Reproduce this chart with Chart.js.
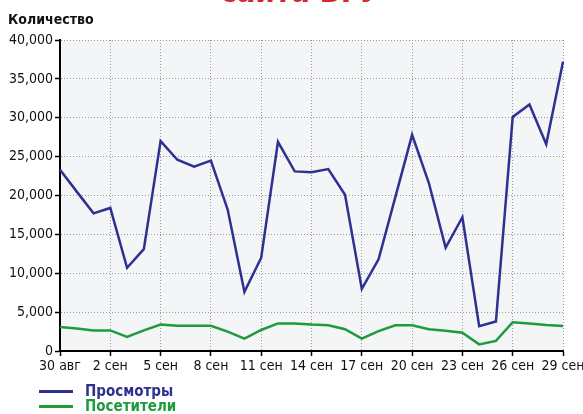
<!DOCTYPE html>
<html>
<head>
<meta charset="utf-8">
<script src="https://cdn.jsdelivr.net/npm/chart.js@4"></script>
<style>
  html,body{margin:0;padding:0;background:#fff;}
  #wrap{position:relative;width:583px;height:414px;overflow:hidden;font-family:"Liberation Sans Narrow","Arial Narrow","DejaVu Sans Condensed",sans-serif;}
  #top{position:absolute;left:0;width:600px;top:-24px;line-height:31px;height:31px;text-align:center;color:#d7262e;font-weight:bold;font-size:31px;}
  #ttl{position:absolute;left:8px;top:11px;font-weight:bold;font-size:14px;color:#111;}
  #leg{position:absolute;left:39px;top:384px;font-weight:bold;font-size:15px;line-height:15px;}
  #leg div{display:flex;align-items:center;}
  #leg span.ln{display:inline-block;width:34px;height:3px;margin-right:12px;}
  canvas{position:absolute;left:0;top:0;}
</style>
</head>
<body>
<div id="wrap">
  <canvas id="c" width="583" height="414"></canvas>
  <div id="top">сайта БГУ</div>
  <div id="ttl">Количество</div>
  <div id="leg"></div>
</div>
<script>
// ── данные ──
const dates=['30 авг','31 авг','1 сен','2 сен','3 сен','4 сен','5 сен','6 сен','7 сен','8 сен','9 сен','10 сен','11 сен','12 сен','13 сен','14 сен','15 сен','16 сен','17 сен','18 сен','19 сен','20 сен','21 сен','22 сен','23 сен','24 сен','25 сен','26 сен','27 сен','28 сен','29 сен'];
const views=[23300,20500,17700,18400,10700,13100,27000,24600,23700,24500,18200,7600,12000,26900,23100,23000,23400,20100,8000,11800,19800,27800,21600,13300,17200,3200,3800,30100,31700,26600,37200];
const visitors=[3100,2900,2650,2650,1800,2650,3400,3250,3250,3250,2500,1600,2700,3550,3550,3400,3300,2800,1600,2550,3300,3300,2800,2600,2350,850,1300,3700,3550,3350,3200];
const seriesNames=['Просмотры','Посетители'];
const seriesColors=['#2e3192','#1f9a3c'];
const yTicks=[0,5000,10000,15000,20000,25000,30000,35000,40000];

const FONT='"Liberation Sans Narrow","Arial Narrow","DejaVu Sans Condensed",sans-serif';

document.getElementById('leg').innerHTML=seriesNames.map((n,i)=>
  `<div style="color:${seriesColors[i]}"><span class="ln" style="background:${seriesColors[i]}"></span>${n}</div>`).join('');

const plotBg={id:'plotBg',beforeDraw(ch){const a=ch.chartArea,c=ch.ctx;c.save();c.fillStyle='#f3f5f7';c.fillRect(a.left,a.top,a.right-a.left,a.bottom-a.top);c.restore();}};

new Chart(document.getElementById('c'),{
  type:'line',
  data:{labels:dates,datasets:[
    {label:seriesNames[0],data:views,borderColor:seriesColors[0],borderWidth:2.5,pointRadius:0,fill:false,tension:0},
    {label:seriesNames[1],data:visitors,borderColor:seriesColors[1],borderWidth:2.5,pointRadius:0,fill:false,tension:0}
  ]},
  options:{responsive:false,animation:false,
    layout:{padding:{left:0,top:40,right:20,bottom:40}},
    plugins:{legend:{display:false},tooltip:{enabled:false}},
    scales:{
      x:{offset:false,
        afterFit:s=>{s.height=23;s.paddingLeft=0;s.paddingRight=0;},
        border:{display:true,color:'#000',width:2,dash:[1,2]},
        grid:{drawOnChartArea:true,color:c=>c.index%3===0?'#9a9a9a':'rgba(0,0,0,0)',lineWidth:1,
          tickLength:5,tickColor:c=>c.index%3===0?'#000':'rgba(0,0,0,0)',tickWidth:1.5,tickBorderDash:[]},
        ticks:{autoSkip:false,maxRotation:0,minRotation:0,padding:2,color:'#111',font:{family:FONT,size:14},
          callback:(v,i)=>i%3===0?dates[i]:''}
      },
      y:{min:0,max:40000,
        afterFit:s=>{s.width=60;},
        afterBuildTicks:s=>{s.ticks=yTicks.map(v=>({value:v}));},
        border:{display:true,color:'#000',width:2,dash:[1,2]},
        grid:{color:'#9a9a9a',lineWidth:1,tickLength:5,tickColor:'#000',tickWidth:1.5,tickBorderDash:[]},
        ticks:{padding:2,color:'#111',font:{family:FONT,size:14},callback:v=>v.toLocaleString('en-US')}
      }
    }
  },
  plugins:[plotBg]
});
</script>
</body>
</html>
